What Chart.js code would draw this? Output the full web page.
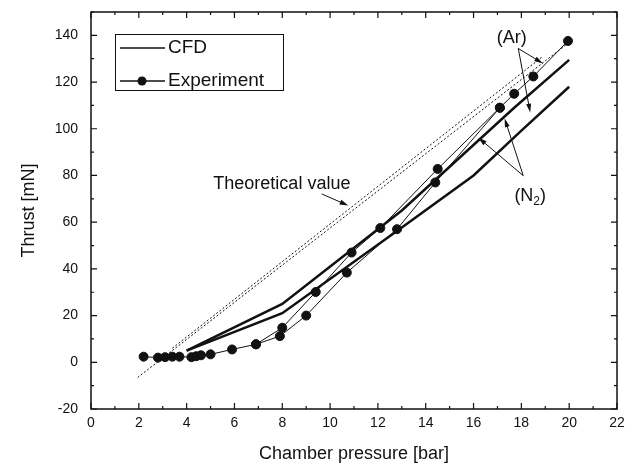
<!DOCTYPE html>
<html>
<head>
<meta charset="utf-8">
<script src="https://cdn.jsdelivr.net/npm/chart.js@4.4.1/dist/chart.umd.min.js"></script>
<style>
  html, body { margin: 0; padding: 0; background: #fff; }
  #wrap { width: 635px; height: 469px; }
</style>
</head>
<body>
<div id="wrap"><canvas id="thrustChart" width="635" height="469"></canvas></div>
<script>
// axis ticks
const xTicks = [0, 2, 4, 6, 8, 10, 12, 14, 16, 18, 20, 22];
const yTicks = [-20, 0, 20, 40, 60, 80, 100, 120, 140];

// CFD results (two gases)
const cfdUpperX = [4, 8, 13, 17.7, 20];
const cfdUpperY = [5, 25, 65, 109, 129.5];
const cfdLowerX = [4, 8, 13, 16, 18, 20];
const cfdLowerY = [5, 21, 57.7, 80, 99.2, 118];

// theoretical value lines
const theoryLowerX = [1.95, 20];
const theoryLowerY = [-6.5, 137];
const theoryUpperX = [3.4, 18.9];
const theoryUpperY = [6, 131];

// experiment
const expAX = [2.2, 2.8, 3.1, 3.4, 3.7, 4.2, 4.4, 4.6, 5.0, 5.9, 6.9, 8.0, 9.4, 10.9, 12.1, 14.5, 17.1, 17.7, 18.5, 19.95];
const expAY = [2.4, 2.0, 2.2, 2.4, 2.4, 2.2, 2.6, 3.0, 3.4, 5.5, 7.7, 14.8, 30.1, 47, 57.5, 82.8, 109, 115, 122.4, 137.6];
const expBX = [6.9, 7.9, 9.0, 10.7, 12.8, 14.4, 17.1];
const expBY = [7.7, 11.2, 20, 38.4, 57, 77, 109];

const FONT = '"Liberation Sans", Arial, sans-serif';
const INK = '#111';

function pts(xs, ys) {
    return xs.map((x, i) => ({ x: x, y: ys[i] }));
}

function drawArrow(ctx, x1, y1, x2, y2) {
    const ang = Math.atan2(y2 - y1, x2 - x1);
    const head = 9;
    ctx.beginPath();
    ctx.moveTo(x1, y1);
    ctx.lineTo(x2 - Math.cos(ang) * head * 0.8, y2 - Math.sin(ang) * head * 0.8);
    ctx.stroke();
    ctx.beginPath();
    ctx.moveTo(x2, y2);
    ctx.lineTo(x2 - head * Math.cos(ang - 0.28), y2 - head * Math.sin(ang - 0.28));
    ctx.lineTo(x2 - head * Math.cos(ang + 0.28), y2 - head * Math.sin(ang + 0.28));
    ctx.closePath();
    ctx.fill();
}

// frame with inward ticks on all four sides
const framePlugin = {
    id: 'frame',
    afterDraw(chart) {
        const ctx = chart.ctx;
        const a = chart.chartArea;
        const xs = chart.scales.x, ys = chart.scales.y;
        ctx.save();
        ctx.strokeStyle = INK;
        ctx.lineWidth = 1.5;
        ctx.strokeRect(a.left, a.top, a.right - a.left, a.bottom - a.top);
        ctx.lineWidth = 1.2;
        ctx.beginPath();
        for (let v = 0; v <= 22; v += 1) {
            const px = xs.getPixelForValue(v);
            const len = v % 2 === 0 ? 6 : 3;
            ctx.moveTo(px, a.bottom); ctx.lineTo(px, a.bottom - len);
            ctx.moveTo(px, a.top); ctx.lineTo(px, a.top + len);
        }
        for (let v = -20; v <= 150; v += 10) {
            const py = ys.getPixelForValue(v);
            const len = v % 20 === 0 ? 6 : 3;
            ctx.moveTo(a.left, py); ctx.lineTo(a.left + len, py);
            ctx.moveTo(a.right, py); ctx.lineTo(a.right - len, py);
        }
        ctx.stroke();
        ctx.restore();
    }
};

// legend box and text annotations
const notesPlugin = {
    id: 'notes',
    afterDatasetsDraw(chart) {
        const ctx = chart.ctx;
        const xs = chart.scales.x, ys = chart.scales.y;
        const X = v => xs.getPixelForValue(v);
        const Y = v => ys.getPixelForValue(v);
        ctx.save();
        ctx.fillStyle = INK;
        ctx.strokeStyle = INK;

        // legend
        ctx.lineWidth = 1;
        ctx.fillStyle = '#fff';
        ctx.fillRect(115, 34, 168, 56);
        ctx.strokeRect(115.5, 34.5, 168, 56);
        ctx.fillStyle = INK;
        ctx.lineWidth = 1.5;
        ctx.beginPath(); ctx.moveTo(120, 48); ctx.lineTo(165, 48); ctx.stroke();
        ctx.beginPath(); ctx.moveTo(120, 81); ctx.lineTo(165, 81); ctx.stroke();
        ctx.beginPath(); ctx.arc(142, 81, 4.5, 0, Math.PI * 2); ctx.fill();
        ctx.font = '19px ' + FONT;
        ctx.textBaseline = 'middle';
        ctx.textAlign = 'left';
        ctx.fillText('CFD', 168, 48);
        ctx.fillText('Experiment', 168, 81);

        // Theoretical value
        ctx.font = '18px ' + FONT;
        ctx.textAlign = 'right';
        ctx.fillText('Theoretical value', X(10.85), Y(76.5));
        ctx.lineWidth = 1;
        drawArrow(ctx, X(9.65), Y(72.1), X(10.76), Y(67.1));

        // (Ar)
        ctx.textAlign = 'center';
        ctx.fillText('(Ar)', X(17.6), Y(138.7));
        drawArrow(ctx, X(17.87), Y(134.4), X(18.9), Y(128));
        drawArrow(ctx, X(17.87), Y(134.4), X(18.37), Y(107));

        // (N2)
        const nx = X(18.37), ny = Y(71.3);
        ctx.textAlign = 'left';
        const w1 = ctx.measureText('(N').width;
        ctx.font = '12px ' + FONT;
        const w2 = ctx.measureText('2').width;
        ctx.font = '18px ' + FONT;
        const w3 = ctx.measureText(')').width;
        const left = nx - (w1 + w2 + w3) / 2;
        ctx.fillText('(N', left, ny);
        ctx.font = '12px ' + FONT;
        ctx.fillText('2', left + w1, ny + 6);
        ctx.font = '18px ' + FONT;
        ctx.fillText(')', left + w1 + w2, ny);
        drawArrow(ctx, X(18.08), Y(79.9), X(17.3), Y(104.4));
        drawArrow(ctx, X(18.08), Y(79.9), X(16.2), Y(96.2));
        ctx.restore();
    }
};

const ctx = document.getElementById('thrustChart').getContext('2d');
new Chart(ctx, {
    type: 'scatter',
    data: {
        datasets: [
            {
                label: 'Theoretical value',
                data: pts(theoryLowerX, theoryLowerY),
                showLine: true, borderColor: INK, borderWidth: 1, borderDash: [2, 2],
                pointRadius: 0
            },
            {
                label: 'Theoretical value 2',
                data: pts(theoryUpperX, theoryUpperY),
                showLine: true, borderColor: INK, borderWidth: 1, borderDash: [2, 2],
                pointRadius: 0
            },
            {
                label: 'CFD',
                data: pts(cfdUpperX, cfdUpperY),
                showLine: true, borderColor: INK, borderWidth: 2.5,
                pointRadius: 0
            },
            {
                label: 'CFD 2',
                data: pts(cfdLowerX, cfdLowerY),
                showLine: true, borderColor: INK, borderWidth: 2.5,
                pointRadius: 0
            },
            {
                label: 'Experiment',
                data: pts(expAX, expAY),
                showLine: true, borderColor: INK, borderWidth: 1,
                pointRadius: 4.5, pointBackgroundColor: INK, pointBorderColor: INK
            },
            {
                label: 'Experiment 2',
                data: pts(expBX, expBY),
                showLine: true, borderColor: INK, borderWidth: 1,
                pointRadius: 4.5, pointBackgroundColor: INK, pointBorderColor: INK
            }
        ]
    },
    options: {
        responsive: false,
        animation: false,
        layout: { padding: { left: 0, top: 12, right: 18, bottom: 0 } },
        plugins: {
            legend: { display: false },
            tooltip: { enabled: false }
        },
        scales: {
            x: {
                type: 'linear', min: 0, max: 22,
                afterBuildTicks: s => { s.ticks = xTicks.map(v => ({ value: v })); },
                afterFit: s => { s.height = 60; },
                grid: { display: false, drawTicks: false },
                border: { display: false },
                ticks: { color: INK, font: { family: FONT, size: 14 }, padding: 6 },
                title: {
                    display: true, text: 'Chamber pressure [bar]', color: INK,
                    font: { family: FONT, size: 18 }, padding: { top: 4 }
                }
            },
            y: {
                type: 'linear', min: -20, max: 150,
                afterBuildTicks: s => { s.ticks = yTicks.map(v => ({ value: v })); },
                afterFit: s => {
                    s.width = 91;
                    // tick padding would otherwise push the plot top down
                    s.paddingTop = 0;
                    s.paddingBottom = 0;
                },
                grid: { display: false, drawTicks: false },
                border: { display: false },
                ticks: { color: INK, font: { family: FONT, size: 14 }, padding: 13 },
                title: {
                    display: true, text: 'Thrust [mN]', color: INK,
                    font: { family: FONT, size: 18 }, padding: { top: 18, bottom: 0 }
                }
            }
        }
    },
    plugins: [framePlugin, notesPlugin]
});
</script>
</body>
</html>
